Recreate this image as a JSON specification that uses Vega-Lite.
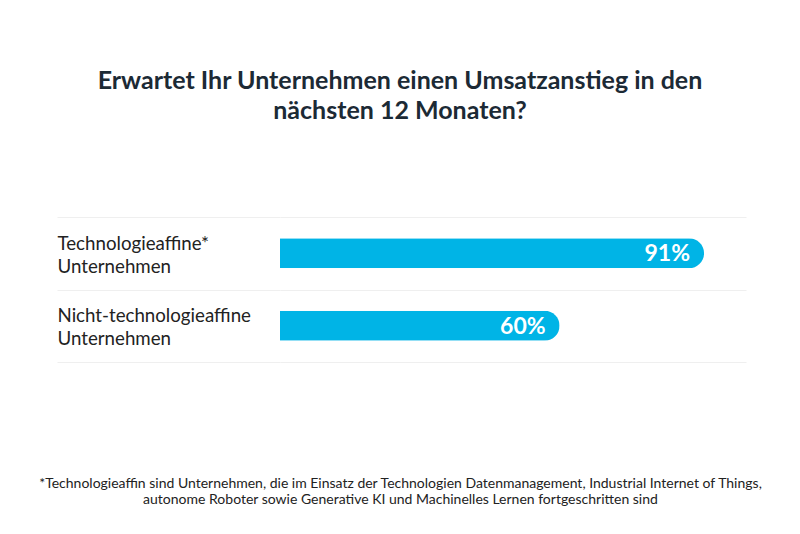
{
  "$schema": "https://vega.github.io/schema/vega-lite/v6.json",
  "autosize": {"type": "none"},
  "width": 466,
  "height": 145,
  "padding": {"left": 280, "top": 217, "right": 54, "bottom": 172},
  "background": "white",
  "title": {
    "text": ["Erwartet Ihr Unternehmen einen Umsatzanstieg in den", "nächsten 12 Monaten?"],
    "font": "Lato",
    "fontSize": 25,
    "fontWeight": "bold",
    "color": "#1c2a35",
    "anchor": "middle",
    "frame": "group",
    "dx": -113,
    "baseline": "alphabetic",
    "lineHeight": 30,
    "offset": 64
  },
  "data": {
    "values": [
      {"group": "Technologieaffine*|Unternehmen", "value": 0.91},
      {"group": "Nicht-technologieaffine|Unternehmen", "value": 0.60}
    ]
  },
  "encoding": {
    "y": {
      "field": "group",
      "type": "nominal",
      "sort": null,
      "scale": {"paddingInner": 0, "paddingOuter": 0},
      "axis": {
        "title": null,
        "domain": false,
        "grid": true,
        "gridColor": "#efefef",
        "gridWidth": 1,
        "ticks": true,
        "tickBand": "extent",
        "tickSize": 223,
        "tickColor": "#efefef",
        "tickWidth": 1,
        "labelAlign": "left",
        "labelBaseline": "middle",
        "labelPadding": 0,
        "labelOffset": -10,
        "labelFont": "Lato",
        "labelFontSize": 18.7,
        "labelColor": "#222222",
        "labelLineHeight": 23,
        "labelLimit": 0,
        "labelExpr": "split(datum.label, '|')"
      }
    },
    "x": {
      "field": "value",
      "type": "quantitative",
      "scale": {"domain": [0, 1]},
      "axis": {
        "labels": false,
        "ticks": false,
        "domain": false,
        "grid": false,
        "title": ["*Technologieaffin sind Unternehmen, die im Einsatz der Technologien Datenmanagement, Industrial Internet of Things,", "autonome Roboter sowie Generative KI und Machinelles Lernen fortgeschritten sind"],
        "titleFont": "Lato",
        "titleFontSize": 14,
        "titleFontWeight": "normal",
        "titleColor": "#222222",
        "titleAlign": "center",
        "titleBaseline": "alphabetic",
        "titleLineHeight": 16,
        "titleX": 120,
        "titleY": 125,
        "titleLimit": 0
      }
    }
  },
  "layer": [
    {
      "mark": {"type": "bar", "size": 30, "color": "#00b4e6", "cornerRadiusEnd": 15}
    },
    {
      "mark": {"type": "text", "align": "right", "baseline": "middle", "dx": -14, "dy": 1, "font": "Lato", "fontSize": 23, "fontWeight": "bold", "color": "white"},
      "encoding": {
        "text": {"field": "value", "type": "quantitative", "format": ".0%"}
      }
    }
  ],
  "config": {"view": {"stroke": null}}
}
